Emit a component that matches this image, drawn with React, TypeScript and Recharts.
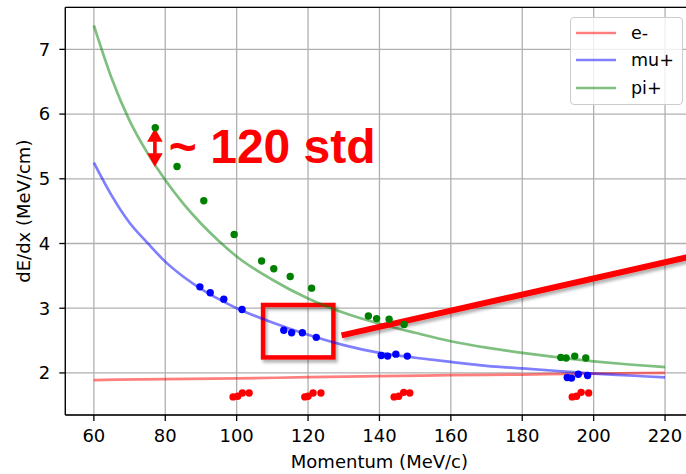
import React from "react";
import {
  CartesianGrid,
  ComposedChart,
  Label,
  Legend,
  Line,
  ReferenceArea,
  ReferenceDot,
  ReferenceLine,
  Scatter,
  XAxis,
  YAxis
} from "recharts";

// curves (momentum in MeV/c, dE/dx in MeV/cm)
const electronCurve = [
  { x: 60, y: 1.89 }, { x: 80, y: 1.905 }, { x: 100, y: 1.915 }, { x: 120, y: 1.935 },
  { x: 140, y: 1.95 }, { x: 160, y: 1.965 }, { x: 180, y: 1.975 }, { x: 200, y: 1.99 },
  { x: 220, y: 2.0 }
];

const muonCurve = [
  { x: 60, y: 5.25 }, { x: 65, y: 4.74 }, { x: 70, y: 4.32 }, { x: 75, y: 4.01 },
  { x: 80, y: 3.72 }, { x: 85, y: 3.49 }, { x: 90, y: 3.3 }, { x: 95, y: 3.14 },
  { x: 100, y: 3.0 }, { x: 110, y: 2.78 }, { x: 120, y: 2.59 }, { x: 130, y: 2.43 },
  { x: 140, y: 2.31 }, { x: 150, y: 2.235 }, { x: 160, y: 2.17 }, { x: 170, y: 2.11 },
  { x: 180, y: 2.07 }, { x: 190, y: 2.03 }, { x: 200, y: 1.99 }, { x: 210, y: 1.96 },
  { x: 220, y: 1.93 }
];

const pionCurve = [
  { x: 60, y: 7.37 }, { x: 65, y: 6.55 }, { x: 70, y: 5.9 }, { x: 75, y: 5.4 },
  { x: 80, y: 4.98 }, { x: 85, y: 4.62 }, { x: 90, y: 4.31 }, { x: 95, y: 4.04 },
  { x: 100, y: 3.8 }, { x: 110, y: 3.44 }, { x: 120, y: 3.15 }, { x: 130, y: 2.93 },
  { x: 140, y: 2.76 }, { x: 150, y: 2.62 }, { x: 160, y: 2.49 }, { x: 170, y: 2.39 },
  { x: 180, y: 2.31 }, { x: 190, y: 2.24 }, { x: 200, y: 2.18 }, { x: 210, y: 2.13 },
  { x: 220, y: 2.09 }
];

// measured points
const pionDots = [
  { x: 77.2, y: 5.79 }, { x: 83.3, y: 5.19 }, { x: 90.8, y: 4.66 }, { x: 99.3, y: 4.14 },
  { x: 107.0, y: 3.73 }, { x: 110.4, y: 3.61 }, { x: 115.0, y: 3.49 }, { x: 121.0, y: 3.31 },
  { x: 136.9, y: 2.88 }, { x: 139.2, y: 2.84 }, { x: 142.7, y: 2.83 }, { x: 146.9, y: 2.75 },
  { x: 190.8, y: 2.24 }, { x: 192.3, y: 2.23 }, { x: 194.7, y: 2.26 }, { x: 197.8, y: 2.23 }
];

const muonDots = [
  { x: 89.7, y: 3.33 }, { x: 92.6, y: 3.24 }, { x: 96.4, y: 3.14 }, { x: 101.5, y: 2.98 },
  { x: 113.2, y: 2.66 }, { x: 115.4, y: 2.62 }, { x: 118.4, y: 2.62 }, { x: 122.3, y: 2.55 },
  { x: 140.5, y: 2.27 }, { x: 142.3, y: 2.26 }, { x: 144.6, y: 2.29 }, { x: 147.8, y: 2.26 },
  { x: 192.6, y: 1.93 }, { x: 193.8, y: 1.92 }, { x: 195.7, y: 1.98 }, { x: 198.3, y: 1.96 }
];

const electronDots = [
  { x: 99.0, y: 1.63 }, { x: 100.3, y: 1.64 }, { x: 101.6, y: 1.69 }, { x: 103.5, y: 1.69 },
  { x: 119.1, y: 1.63 }, { x: 120.0, y: 1.64 }, { x: 121.4, y: 1.69 }, { x: 123.6, y: 1.69 },
  { x: 144.1, y: 1.63 }, { x: 145.4, y: 1.64 }, { x: 146.8, y: 1.7 }, { x: 148.5, y: 1.69 },
  { x: 194.0, y: 1.63 }, { x: 195.2, y: 1.64 }, { x: 196.5, y: 1.7 }, { x: 198.6, y: 1.69 }
];

const xTicks = [60, 80, 100, 120, 140, 160, 180, 200, 220];
const yTicks = [2, 3, 4, 5, 6, 7];

// annotation anchors (data coords)
const arrowSegment = [{ x: 77.1, y: 5.78 }, { x: 77.1, y: 5.186 }];
const boxCorners = { x1: 107.4, x2: 127.1, y1: 2.24, y2: 3.05 };
const pointerSegment = [{ x: 129.4, y: 2.58 }, { x: 228, y: 3.81 }];
const noteAnchor = { x: 81.0, y: 5.24, text: "~ 120 std" };

const font = "'DejaVu Sans', Verdana, sans-serif";
const tickStyle = { fill: "#000", fontSize: 18, fontFamily: font };
const axisStroke = { stroke: "#000", strokeWidth: 1.3 };

function dot(color: string) {
  return (p: any) => <circle cx={p.cx} cy={p.cy} r={3.7} fill={color} />;
}

function DoubleArrow(p: any) {
  const x = p.x1;
  const top = Math.min(p.y1, p.y2);
  const bottom = Math.max(p.y1, p.y2);
  const head = 13.5;
  const half = 7.8;
  return (
    <g fill="#ff0000">
      <polygon points={`${x},${top} ${x - half},${top + head} ${x + half},${top + head}`} />
      <rect x={x - 1.8} y={top + head - 0.5} width={3.6} height={bottom - top - 2 * head + 1} />
      <polygon points={`${x},${bottom} ${x - half},${bottom - head} ${x + half},${bottom - head}`} />
    </g>
  );
}

function XTitle(p: any) {
  const vb = p.viewBox;
  return (
    <text x={vb.x + vb.width / 2} y={vb.y + 52.5} textAnchor="middle" fill="#000" fontSize={18} fontFamily={font}>
      Momentum (MeV/c)
    </text>
  );
}

function YTitle(p: any) {
  const vb = p.viewBox;
  const cx = 30;
  const cy = vb.y + vb.height / 2;
  return (
    <text x={cx} y={cy} transform={`rotate(-90 ${cx} ${cy})`} textAnchor="middle" fill="#000" fontSize={18} fontFamily={font}>
      dE/dx (MeV/cm)
    </text>
  );
}

function renderLegend(props: any) {
  const items = (props.payload || []).filter((e: any) => e.type !== "none");
  return (
    <div
      style={{
        boxSizing: "border-box",
        width: 113,
        height: 88,
        border: "1px solid #cccccc",
        borderRadius: 4,
        background: "rgba(255,255,255,0.8)",
        paddingTop: 1,
        fontFamily: font,
        fontSize: 17.5,
        color: "#000"
      }}
    >
      {items.map((e: any) => (
        <div key={e.value} style={{ display: "flex", alignItems: "center", height: 27.5 }}>
          <svg width={40} height={6} style={{ marginLeft: 5, marginRight: 15 }}>
            <line x1={0} y1={3} x2={40} y2={3} stroke={e.color} strokeOpacity={0.5} strokeWidth={2.7} />
          </svg>
          <span>{e.value}</span>
        </div>
      ))}
    </div>
  );
}

export default function App() {
  return (
    <div style={{ position: "absolute", left: 0, top: 0, width: 686, height: 474, overflow: "hidden", background: "#fff" }}>
      <ComposedChart
        width={700}
        height={474}
        margin={{ top: 7.3, right: 6.4, bottom: 0, left: 0 }}
        style={{ fontFamily: font }}
      >
        <defs>
          <filter id="redShadow" x="-20%" y="-40%" width="140%" height="180%">
            <feDropShadow dx={2} dy={3} stdDeviation={1.6} floodColor="#000" floodOpacity={0.3} />
          </filter>
        </defs>
        <CartesianGrid stroke="#b0b0b0" strokeWidth={1.3} />
        <XAxis
          type="number"
          dataKey="x"
          domain={[52, 228]}
          allowDataOverflow
          ticks={xTicks}
          height={59}
          tick={tickStyle}
          tickSize={6}
          tickMargin={8}
          axisLine={axisStroke}
          tickLine={axisStroke}
        >
          <Label content={XTitle} />
        </XAxis>
        <YAxis
          type="number"
          dataKey="y"
          domain={[1.35, 7.65]}
          allowDataOverflow
          ticks={yTicks}
          width={65.3}
          tick={tickStyle}
          tickSize={6}
          tickMargin={9}
          axisLine={axisStroke}
          tickLine={axisStroke}
        >
          <Label content={YTitle} />
        </YAxis>
        <ReferenceLine y={7.65} stroke="#000" strokeWidth={1.3} ifOverflow="visible" />

        <Line data={electronCurve} dataKey="y" name="e-" type="monotone" stroke="#ff0000" strokeOpacity={0.5} strokeWidth={2.7} dot={false} activeDot={false} isAnimationActive={false} />
        <Line data={muonCurve} dataKey="y" name="mu+" type="monotone" stroke="#0000ff" strokeOpacity={0.5} strokeWidth={2.7} dot={false} activeDot={false} isAnimationActive={false} />
        <Line data={pionCurve} dataKey="y" name="pi+" type="monotone" stroke="#008000" strokeOpacity={0.5} strokeWidth={2.7} dot={false} activeDot={false} isAnimationActive={false} />

        <Scatter data={pionDots} legendType="none" fill="#008000" shape={dot("#008000")} isAnimationActive={false} />
        <Scatter data={muonDots} legendType="none" fill="#0000ff" shape={dot("#0000ff")} isAnimationActive={false} />
        <Scatter data={electronDots} legendType="none" fill="#ff0000" shape={dot("#ff0000")} isAnimationActive={false} />

        <ReferenceLine segment={arrowSegment} ifOverflow="visible" shape={DoubleArrow} />
        <ReferenceDot
          x={noteAnchor.x}
          y={noteAnchor.y}
          r={0}
          ifOverflow="visible"
          shape={(p: any) => (
            <text x={p.cx} y={p.cy} fill="#ff0000" fontSize={48} fontWeight="bold" fontFamily="'Liberation Sans', Arial, sans-serif">
              {noteAnchor.text}
            </text>
          )}
        />
        <ReferenceArea
          x1={boxCorners.x1}
          x2={boxCorners.x2}
          y1={boxCorners.y1}
          y2={boxCorners.y2}
          ifOverflow="visible"
          shape={(p: any) => (
            <rect x={p.x} y={p.y} width={p.width} height={p.height} fill="none" stroke="#ff0000" strokeWidth={4.5} filter="url(#redShadow)" />
          )}
        />
        <ReferenceLine
          segment={pointerSegment}
          ifOverflow="visible"
          shape={(p: any) => (
            <line x1={p.x1} y1={p.y1} x2={p.x2} y2={p.y2} stroke="#ff0000" strokeWidth={6} filter="url(#redShadow)" />
          )}
        />

        <Legend
          layout="vertical"
          align="center"
          verticalAlign="middle"
          wrapperStyle={{ left: 570, top: 17, width: 113 }}
          content={renderLegend}
        />
      </ComposedChart>
    </div>
  );
}
